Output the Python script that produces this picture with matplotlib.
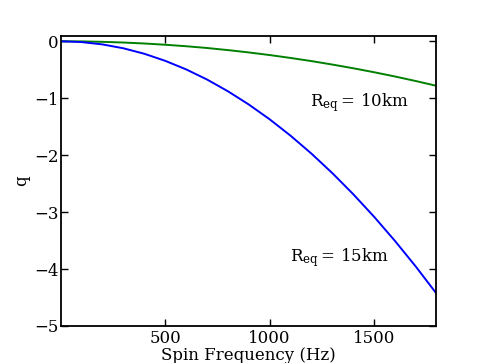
import matplotlib
matplotlib.use("Agg")
import matplotlib.pyplot as plt

freq = [0, 100, 200, 300, 400, 500, 600, 700, 800, 900, 1000,
        1100, 1200, 1300, 1400, 1500, 1600, 1700, 1800]
q_15km = [0.0, -0.014, -0.055, -0.123, -0.219, -0.343, -0.493, -0.671, -0.877,
          -1.110, -1.370, -1.658, -1.973, -2.316, -2.686, -3.083, -3.508, -3.960, -4.440]
q_10km = [0.0, -0.002, -0.010, -0.022, -0.039, -0.061, -0.087, -0.118, -0.155,
          -0.196, -0.242, -0.293, -0.348, -0.409, -0.474, -0.544, -0.619, -0.699, -0.784]
xticks = [500, 1000, 1500]
yticks = [0, -1, -2, -3, -4, -5]

plt.rcParams['font.family'] = ['DejaVu Serif']
plt.rcParams['mathtext.fontset'] = 'dejavuserif'
plt.rcParams['font.size'] = 12

fig = plt.figure(figsize=(4.85, 3.63), dpi=100)
ax = fig.add_axes([0.125, 0.102, 0.774, 0.8])
ax.plot(freq, q_10km, color='#008000', lw=1.4)
ax.plot(freq, q_15km, color='#0000ff', lw=1.4)
ax.set_xlim(0, 1796)
ax.set_ylim(-5, 0.1)
ax.set_xticks(xticks)
ax.set_yticks(yticks)
ax.set_yticklabels(['0', '\u22121', '\u22122', '\u22123', '\u22124', '\u22125'])
ax.tick_params(direction='in', top=True, right=True, length=5, width=1, labelsize=12)
ax.tick_params(axis='y', pad=1.5)
ax.tick_params(axis='x', pad=3)
for s in ax.spines.values():
    s.set_linewidth(1.3)
ax.set_xlabel('Spin Frequency (Hz)', fontsize=12, labelpad=0)
ax.set_ylabel('q', fontsize=12, labelpad=3)
ax.text(1193, -1.08, r'$\mathrm{R_{eq}=\,10km}$', fontsize=12, va='center', ha='left')
ax.text(1097, -3.79, r'$\mathrm{R_{eq}=\,15km}$', fontsize=12, va='center', ha='left')
fig.savefig('out.png', dpi=100)
